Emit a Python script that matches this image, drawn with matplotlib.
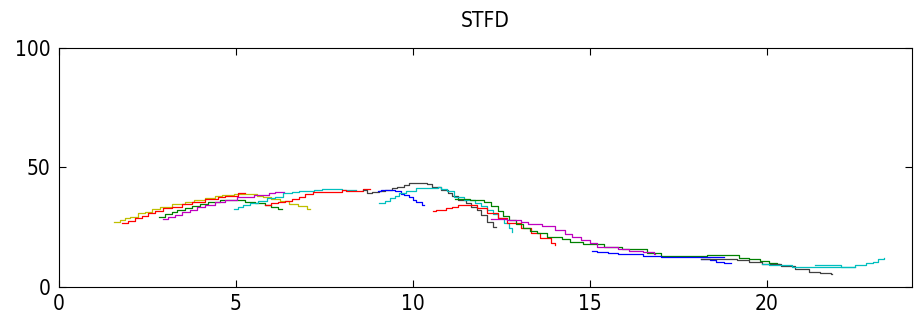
import matplotlib
matplotlib.use("Agg")
import matplotlib.pyplot as plt

# track data (x, y), drawn as staircases
yel1_x = [1.55, 1.72, 1.87, 2.0, 2.24, 2.43, 2.62, 2.85, 3.18, 3.56, 3.8, 4.13, 4.41, 4.6, 4.95, 5.6, 5.75, 6.0, 6.25, 6.5, 6.75, 7.0, 7.08]
yel1_y = [27.1, 28.0, 28.7, 29.4, 30.8, 31.5, 32.5, 33.6, 34.7, 35.7, 36.4, 37.1, 38.1, 38.5, 38.9, 38.2, 37.5, 36.8, 36.0, 34.7, 34.0, 32.8, 32.8]

red1_x = [1.79, 1.96, 2.15, 2.34, 2.52, 2.71, 2.95, 3.18, 3.47, 3.75, 4.12, 4.5, 4.69, 5.05, 5.25]
red1_y = [26.6, 27.7, 28.7, 29.7, 30.8, 31.8, 32.9, 33.6, 34.7, 35.7, 36.7, 37.8, 38.2, 39.3, 39.3]

grn1_x = [2.83, 3.0, 3.18, 3.32, 3.56, 3.75, 3.98, 4.22, 4.55, 5.2, 5.25, 5.54, 5.82, 6.0, 6.2, 6.3]
grn1_y = [29.4, 30.4, 31.3, 32.2, 32.9, 33.9, 34.7, 35.7, 36.4, 36.6, 35.7, 35.3, 34.3, 33.6, 32.5, 32.5]

mag1_x = [2.93, 3.09, 3.28, 3.47, 3.7, 3.89, 4.12, 4.41, 4.7, 5.04, 5.5, 5.92, 6.1, 6.35]
mag1_y = [28.4, 29.2, 30.2, 31.2, 32.3, 33.5, 34.4, 35.5, 36.6, 37.6, 38.5, 39.5, 39.9, 39.9]

cyn1_x = [4.93, 5.07, 5.21, 5.4, 5.63, 5.87, 6.1, 6.34, 6.58, 6.77, 7.2, 7.43, 8.0, 8.4]
cyn1_y = [32.5, 33.6, 34.3, 35.3, 36.1, 37.1, 37.8, 39.5, 39.9, 40.2, 40.6, 40.9, 40.6, 40.6]

red2_x = [5.82, 6.0, 6.2, 6.38, 6.58, 6.77, 6.95, 7.18, 7.99, 8.1, 8.6, 8.8]
red2_y = [34.3, 35.0, 35.4, 36.1, 36.8, 37.8, 38.9, 39.6, 40.6, 40.3, 41.0, 41.0]

blk1_x = [8.6, 8.7, 8.85, 9.05, 9.2, 9.4, 9.55, 9.75, 9.9, 10.4, 10.55, 10.8, 11.0, 11.1, 11.26, 11.5, 11.64, 11.8, 11.93, 12.1, 12.27, 12.35]
blk1_y = [40.4, 39.2, 39.6, 40.3, 40.6, 41.3, 42.0, 42.7, 43.4, 42.9, 42.0, 40.6, 39.5, 38.2, 36.4, 35.0, 33.6, 32.2, 30.1, 27.3, 25.2, 25.2]

blu1_x = [9.0, 9.1, 9.5, 9.65, 9.75, 9.9, 10.0, 10.1, 10.25, 10.3]
blu1_y = [40.3, 40.6, 40.0, 39.0, 38.5, 37.5, 36.4, 35.4, 34.3, 34.3]

cyn2_x = [9.05, 9.2, 9.35, 9.5, 9.6, 9.8, 10.08, 10.7, 10.8, 10.95, 11.16, 11.45, 11.75, 11.93, 12.1, 12.25, 12.4, 12.58, 12.7, 12.8]
cyn2_y = [35.0, 36.0, 37.1, 38.2, 39.5, 40.2, 41.3, 41.8, 41.0, 40.0, 37.8, 36.4, 35.0, 34.0, 32.2, 30.5, 28.7, 26.6, 24.8, 23.1]

red3_x = [10.57, 10.65, 10.94, 11.1, 11.27, 11.7, 11.8, 12.1, 12.4, 12.65, 13.05, 13.34, 13.6, 13.9, 14.0]
red3_y = [31.8, 32.4, 32.9, 33.6, 34.3, 34.3, 32.9, 30.8, 28.7, 26.6, 24.5, 22.4, 20.4, 18.3, 17.6]

grn2_x = [11.2, 11.6, 12.0, 12.2, 12.4, 12.55, 12.7, 12.9, 13.1, 13.3, 13.5, 13.8, 14.2, 14.45, 14.8, 15.4, 15.9, 16.6, 17.0, 18.3, 19.2, 19.5, 19.8, 20.05, 20.3, 20.35]
grn2_y = [36.8, 36.4, 35.5, 33.9, 31.6, 29.8, 28.0, 26.2, 24.8, 23.4, 22.4, 21.1, 20.1, 19.0, 18.0, 16.9, 16.0, 14.4, 12.8, 13.4, 12.3, 11.8, 11.0, 10.1, 9.6, 9.6]

mag2_x = [12.2, 12.65, 13.06, 13.25, 13.66, 14.0, 14.3, 14.5, 14.76, 15.0, 15.2, 15.5, 15.8, 16.1, 16.5, 16.8, 16.85]
mag2_y = [28.3, 28.0, 27.3, 26.2, 25.7, 23.8, 22.2, 21.1, 19.7, 18.3, 16.9, 16.9, 15.8, 15.2, 14.6, 13.8, 13.8]

blu2_x = [15.05, 15.2, 15.5, 15.8, 16.5, 17.0, 18.8]
blu2_y = [15.1, 14.6, 14.1, 13.7, 13.0, 12.7, 12.7]

blu3_x = [18.15, 18.4, 18.55, 18.8, 19.0]
blu3_y = [11.8, 11.3, 10.6, 9.9, 9.9]

blk2_x = [18.15, 19.15, 19.5, 19.86, 20.4, 20.8, 21.2, 21.5, 21.8, 21.85]
blk2_y = [11.6, 11.3, 10.3, 9.5, 8.8, 7.4, 6.4, 5.7, 5.3, 5.3]

cyn3_x = [19.85, 20.05, 20.7, 21.35, 22.5]
cyn3_y = [9.6, 9.2, 8.5, 8.2, 8.2]

cyn4_x = [21.35, 22.1, 22.5, 22.8, 23.0, 23.15, 23.3]
cyn4_y = [9.2, 8.5, 9.2, 9.9, 10.6, 11.6, 12.3]

x_ticks = [0, 5, 10, 15, 20]
y_ticks = [0, 50, 100]

C = {"y": "#bfbf00", "r": "#ff0000", "g": "#008000", "m": "#bf00bf",
     "c": "#00bfbf", "b": "#0000ff", "k": "#404040"}

tracks = [
    (yel1_x, yel1_y, "y"), (red1_x, red1_y, "r"), (grn1_x, grn1_y, "g"),
    (mag1_x, mag1_y, "m"), (cyn1_x, cyn1_y, "c"), (red2_x, red2_y, "r"),
    (blk1_x, blk1_y, "k"), (blu1_x, blu1_y, "b"), (cyn2_x, cyn2_y, "c"),
    (red3_x, red3_y, "r"), (grn2_x, grn2_y, "g"), (mag2_x, mag2_y, "m"),
    (blu2_x, blu2_y, "b"), (blu3_x, blu3_y, "b"), (blk2_x, blk2_y, "k"),
    (cyn3_x, cyn3_y, "c"), (cyn4_x, cyn4_y, "c"),
]

# condensed face to get the narrow tick digits
plt.rcParams["font.family"] = ["DejaVu Sans"]
plt.rcParams["font.stretch"] = "condensed"

fig = plt.figure(figsize=(9.15, 3.22), dpi=100)
ax = fig.add_axes([0.0645, 0.1087, 0.9322, 0.7423])

for xs, ys, col in tracks:
    ax.plot(xs, ys, drawstyle="steps-post", color=C[col], lw=0.9)

ax.set_xlim(0, 24.1)
ax.set_ylim(0, 100)
ax.set_xticks(x_ticks)
ax.set_yticks(y_ticks)
ax.tick_params(direction="in", length=5, width=0.8, top=True, right=True,
               labelsize=15)
ax.tick_params(axis="x", pad=5)
ax.tick_params(axis="y", pad=6)
for s in ax.spines.values():
    s.set_linewidth(0.8)
ax.set_title("STFD", fontsize=15, pad=15)

fig.savefig("out.png", dpi=100)
